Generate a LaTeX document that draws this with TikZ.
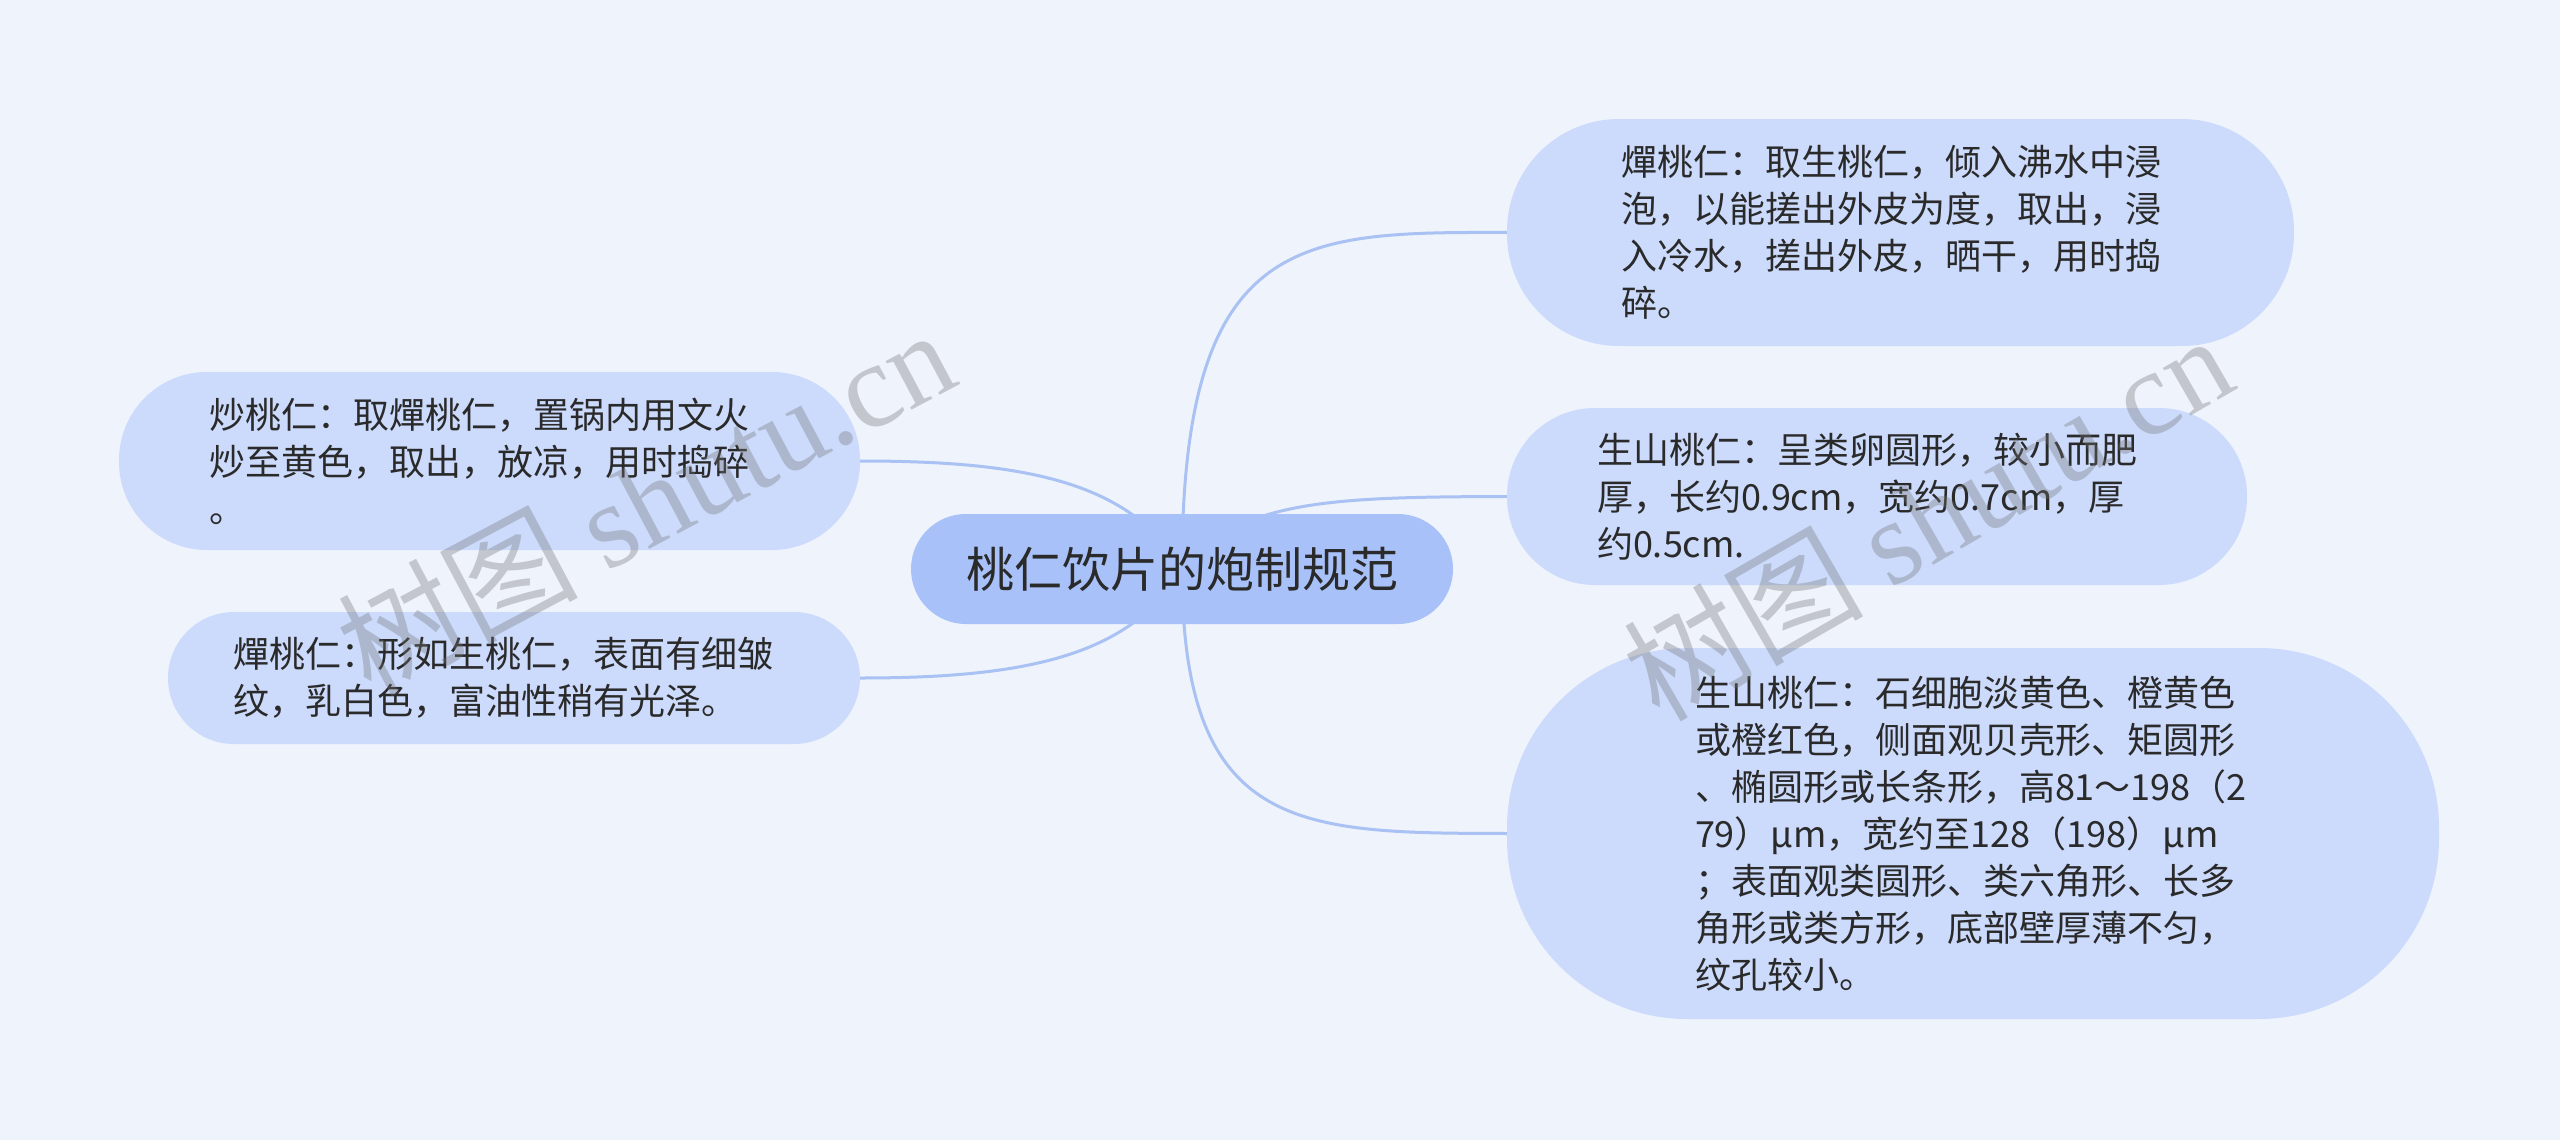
\documentclass[tikz,border=0pt]{standalone}
\usepackage{fontspec}
\setmainfont{Noto Sans CJK SC}
\newfontfamily\wmlatin{Liberation Serif}
\usetikzlibrary{backgrounds}
\definecolor{bgc}{HTML}{EEF3FC}
\definecolor{subfill}{HTML}{CCDBFC}
\definecolor{mainfill}{HTML}{A8C1F8}
\definecolor{linec}{HTML}{A9C1F3}
\definecolor{textc}{HTML}{2A2A2A}
\begin{document}
\begin{tikzpicture}[x=1pt,y=-1pt,
  subbox/.style={fill=subfill, inner sep=0pt, align=left, text=textc,
    font=\fontsize{36pt}{47pt}\selectfont},
  mainbox/.style={fill=mainfill, inner sep=0pt, align=center, text=textc,
    font=\fontsize{48pt}{56pt}\selectfont, minimum width=542pt, minimum height=110pt,
    rounded corners=55pt},
  conn/.style={draw=linec, line width=3pt},
  wm/.style={text=black!55, text opacity=0.35, font=\fontsize{120pt}{122pt}\selectfont}
]
\useasboundingbox (0,0) rectangle (2560,1140);

\node[mainbox] (c) at (1182,569) {桃仁饮片的炮制规范};

\node[subbox, minimum width=787pt, minimum height=227pt, rounded corners=112pt, text width=559pt]
  (tr) at (1900.5,232.5) {燀桃仁：取生桃仁，倾入沸水中浸\\泡，以能搓出外皮为度，取出，浸\\入冷水，搓出外皮，晒干，用时捣\\碎。};

\node[subbox, minimum width=740pt, minimum height=177pt, rounded corners=88pt, text width=560pt]
  (mr) at (1877,496.5) {生山桃仁：呈类卵圆形，较小而肥\\厚，长约0.9cm，宽约0.7cm，厚\\约0.5cm.};

\node[subbox, minimum width=932pt, minimum height=371pt, rounded corners=180pt, text width=556pt]
  (br) at (1973,833.5) {生山桃仁：石细胞淡黄色、橙黄色\\或橙红色，侧面观贝壳形、矩圆形\\、椭圆形或长条形，高81～198（2\\79）μm，宽约至128（198）μm\\；表面观类圆形、类六角形、长多\\角形或类方形，底部壁厚薄不匀，\\纹孔较小。};

\node[subbox, minimum width=741pt, minimum height=178pt, rounded corners=88pt, text width=561pt]
  (lt) at (489.5,461) {炒桃仁：取燀桃仁，置锅内用文火\\炒至黄色，取出，放凉，用时捣碎\\。};

\node[subbox, minimum width=692pt, minimum height=132pt, rounded corners=66pt, text width=562pt]
  (lb) at (514,678) {燀桃仁：形如生桃仁，表面有细皱\\纹，乳白色，富油性稍有光泽。};

\begin{scope}[on background layer]
  \fill[bgc] (0,0) rectangle (2560,1140);
  \draw[conn] (c.center) .. controls (1182,232) and (1300,232) .. (tr.west);
  \draw[conn] (c.center) .. controls (1240,500) and (1330,497) .. (mr.west);
  \draw[conn] (c.center) .. controls (1182,833) and (1300,833) .. (br.west);
  \draw[conn] (c.center) .. controls (1130,480) and (1020,461) .. (lt.east);
  \draw[conn] (c.center) .. controls (1130,658) and (1020,678) .. (lb.east);
\end{scope}

\node[wm, rotate=28] (wm1) at (645,500) {树图 {\wmlatin shutu.cn}};
\node[wm, rotate=30] (wm2) at (1927,516) {树图 {\wmlatin shutu.cn}};
\end{tikzpicture}
\end{document}
